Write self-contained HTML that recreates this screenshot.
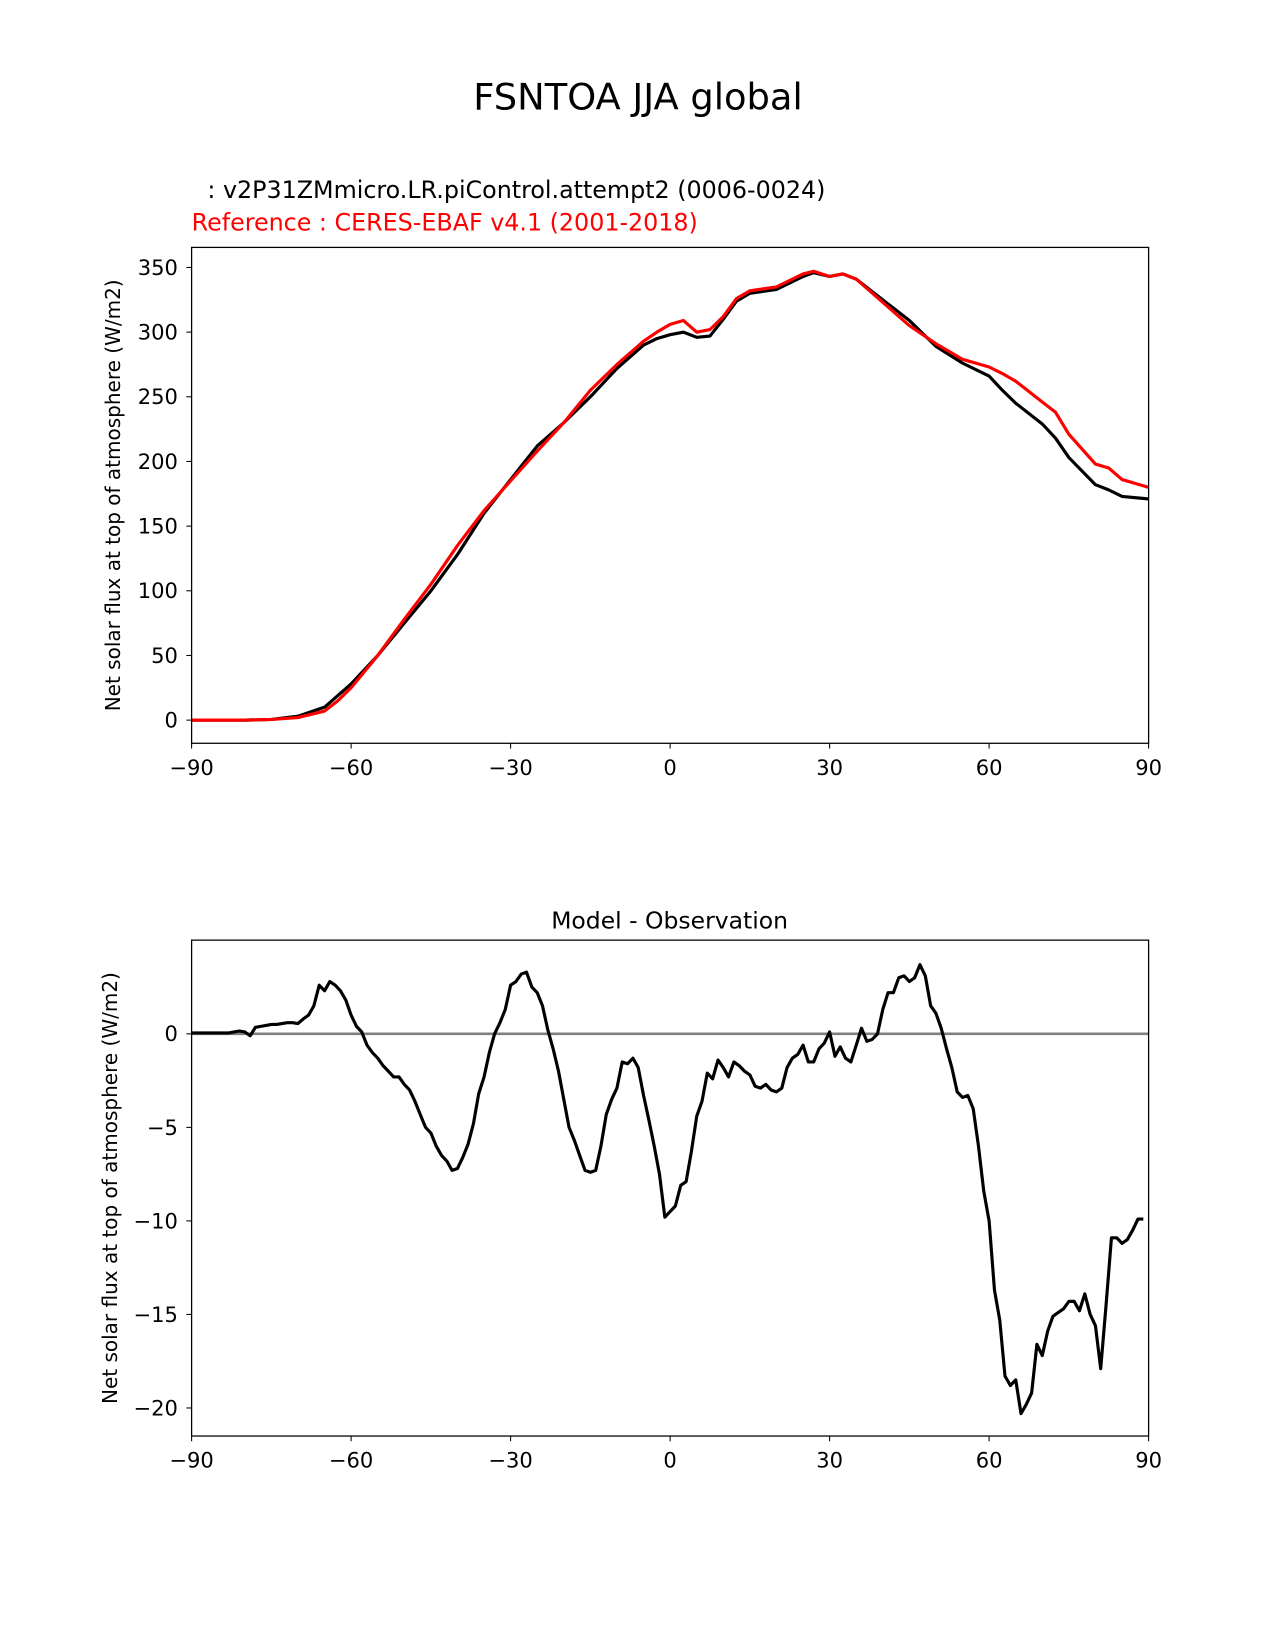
<!DOCTYPE html>
<html><head><meta charset="utf-8"><style>
body{margin:0;background:#fff}
svg{display:block;font-family:"DejaVu Sans","Liberation Sans",sans-serif}
</style></head><body>
<svg id="c" width="1275" height="1650" viewBox="0 0 1275 1650" xmlns="http://www.w3.org/2000/svg">
<g transform="scale(1.0528)">
<text x="606" y="104" font-size="35" text-anchor="middle">FSNTOA JJA global</text>
<text x="197" y="188" font-size="22.6">: v2P31ZMmicro.LR.piControl.attempt2 (0006-0024)</text>
<text x="182" y="219" font-size="22.6" fill="#ff0000">Reference : CERES-EBAF v4.1 (2001-2018)</text>
<text x="636" y="882" font-size="22.3" text-anchor="middle">Model - Observation</text>
<g id="topChart"></g>
<g id="botChart"></g>
</g>
</svg>
<script>
const topLat=[-90,-85,-80,-75,-70,-65,-62.5,-60,-55,-50,-45,-40,-35,-30,-25,-20,-15,-10,-5,-2.5,0,2.5,5,7.5,10,12.5,15,20,25,27,30,32.5,35,40,45,50,55,60,62.5,65,70,72.5,75,80,82.5,85,90];
const modelVals=[0,0,0,0.5,3,10,19,28,50,75,100,128,160,186,212,230,250,272,290,295,298,300,296,297,310,324,330,333,343,346,343,345,341,325,309,289,276,266,255,245,229,218,203,182,178,173,171];
const obsVals=[0,0,0,0.5,2,7,15,25,50,78,105,135,162,185,208,230,255,275,293,300,306,309,300,302,312,326,332,335,345,347,343,345,341,323,305,291,279,273,268,262,246,238,221,198,195,186,180];
const diffLat=[];for(let i=-90;i<=90;i++)diffLat.push(i);
const diffVals=[0.05,0.05,0.05,0.05,0.05,0.05,0.05,0.05,0.1,0.15,0.1,-0.1,0.35,0.4,0.45,0.5,0.5,0.55,0.6,0.6,0.55,0.8,1.0,1.5,2.6,2.3,2.8,2.6,2.3,1.8,1.0,0.4,0.1,-0.6,-1.0,-1.3,-1.7,-2.0,-2.3,-2.3,-2.7,-3.0,-3.6,-4.3,-5.0,-5.3,-6.0,-6.5,-6.8,-7.3,-7.2,-6.6,-5.9,-4.8,-3.2,-2.3,-1.0,0.0,0.6,1.3,2.6,2.8,3.2,3.3,2.5,2.2,1.5,0.2,-0.8,-2.0,-3.5,-5.0,-5.7,-6.5,-7.3,-7.4,-7.3,-6.0,-4.3,-3.5,-2.9,-1.5,-1.6,-1.3,-1.8,-3.3,-4.6,-6.0,-7.5,-9.8,-9.5,-9.2,-8.1,-7.9,-6.3,-4.4,-3.6,-2.1,-2.4,-1.4,-1.8,-2.3,-1.5,-1.7,-2.0,-2.2,-2.8,-2.9,-2.7,-3.0,-3.1,-2.9,-1.8,-1.3,-1.1,-0.6,-1.5,-1.5,-0.8,-0.5,0.1,-1.2,-0.7,-1.3,-1.5,-0.6,0.3,-0.4,-0.3,0.0,1.3,2.2,2.2,3.0,3.1,2.8,3.0,3.7,3.1,1.5,1.1,0.3,-0.8,-1.8,-3.1,-3.4,-3.3,-4.0,-6.0,-8.4,-10.0,-13.7,-15.3,-18.3,-18.8,-18.5,-20.3,-19.8,-19.2,-16.6,-17.2,-15.9,-15.1,-14.9,-14.7,-14.3,-14.3,-14.8,-13.9,-15.0,-15.6,-17.9,-14.5,-10.9,-10.9,-11.2,-11.0,-10.5,-9.9,-9.9];
const xTicks=[-90,-60,-30,0,30,60,90];
const topYTicks=[0,50,100,150,200,250,300,350];
const botYTicks=[-20,-15,-10,-5,0];
const NS="http://www.w3.org/2000/svg";
function mk(p,t,a){const e=document.createElementNS(NS,t);for(const k in a)e.setAttribute(k,a[k]);p.appendChild(e);return e;}
function lab(v){return v<0?"\u2212"+(-v):String(v);}
function panel(g,x0,x1,y0,y1,ymin,ymax,yticks,ylabel,ylx){
  const sx=v=>x0+(v+90)/180*(x1-x0);
  const sy=v=>y1-(v-ymin)/(ymax-ymin)*(y1-y0);
  xTicks.forEach(t=>{
    const l=mk(g,"line",{x1:sx(t),x2:sx(t),y1:y1,y2:y1+5,stroke:"#000","stroke-width":1});
    
    
    const tx=mk(g,"text",{x:sx(t),y:y1+30,"font-size":"20","text-anchor":"middle"});
    tx.textContent=lab(t);
    
    
  });
  yticks.forEach(t=>{
    const l=mk(g,"line",{x1:x0-5,x2:x0,y1:sy(t),y2:sy(t),stroke:"#000","stroke-width":1});
    
    
    const tx=mk(g,"text",{x:x0-13,y:sy(t)+7,"font-size":"20","text-anchor":"end"});
    tx.textContent=lab(t);
    
    
  });
  const yl=mk(g,"text",{x:0,y:0,"font-size":"19","text-anchor":"middle",transform:`translate(${ylx},${(y0+y1)/2}) rotate(-90)`});
  yl.textContent=ylabel;
  
  
  return {sx,sy,frame:()=>{const r=mk(g,"rect",{x:x0,y:y0,width:x1-x0,height:y1-y0,fill:"none",stroke:"#000","stroke-width":1.2});}};
}
function line(g,sx,sy,xs,ys,col,name,w){
  const d=xs.map((x,i)=>(i?"L":"M")+sx(x).toFixed(1)+","+sy(ys[i]).toFixed(1)).join("");
  const p=mk(g,"path",{d:d,fill:"none",stroke:col,"stroke-width":w||3,"stroke-linejoin":"round"});
  
  
}
const ylabel="Net solar flux at top of atmosphere (W/m2)";
const gTop=document.getElementById("topChart");
const A=panel(gTop,182,1091,235,706,-17.9,365.5,topYTicks,ylabel,114);
line(gTop,A.sx,A.sy,topLat,modelVals,"#000","model-line");
line(gTop,A.sx,A.sy,topLat,obsVals,"#ff0000","observation-line");
A.frame();
const gBot=document.getElementById("botChart");
const B=panel(gBot,182,1091,893,1364,-21.5,5.01,botYTicks,ylabel,111);
line(gBot,B.sx,B.sy,[-90,90],[0,0],"#808080","zero-line",2.5);
line(gBot,B.sx,B.sy,diffLat,diffVals,"#000","difference-line");
B.frame();
</script>
</body></html>
